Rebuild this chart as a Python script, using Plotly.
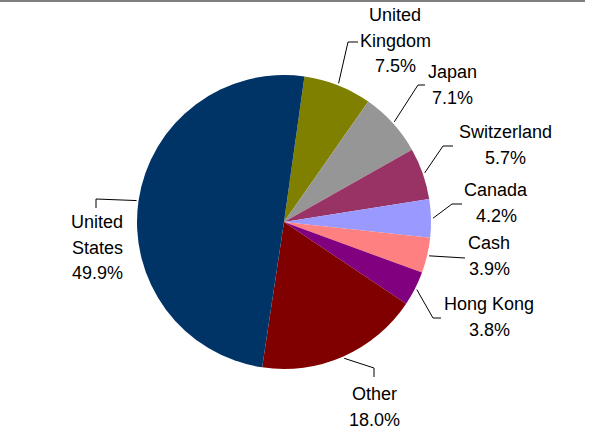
import math
import plotly.graph_objects as go

# ---- data ----
regions = ["United Kingdom", "Japan", "Switzerland", "Canada", "Cash",
           "Hong Kong", "Other", "United States"]
label_lines = [["United", "Kingdom"], ["Japan"], ["Switzerland"], ["Canada"],
               ["Cash"], ["Hong Kong"], ["Other"], ["United", "States"]]
shares = [7.5, 7.1, 5.7, 4.2, 3.9, 3.8, 18.0, 49.9]

# ---- styles / layout ----
colors = ["#808000", "#969696", "#993366", "#9999FF", "#FF8080",
          "#800080", "#800000", "#003366"]
W, H = 589, 434
CX, CY, R = 284.0, 222.0, 147.0
ROT = 8.0
FONT = "Liberation Sans, Arial, sans-serif"
FS = 18
LINE_GAP = 25.5

# label block: (center x, first line y), leader elbow, leader end (pixels)
label_pos = [(395, 15), (452, 72), (505, 132), (496, 190), (489, 243),
             (489, 304), (374, 394), (97, 222)]
elbows = [(348, 42), (418, 85), (443, 146), (452, 204), (465, 258),
          (433, 318), (374, 368), (96, 199)]
ends = [(358, 42), (425, 85), (453, 146), (462, 204), (465, 258),
        (441, 318), (374, 377), (96, 208)]


def px(x):
    return x / W


def py(y):
    return 1 - y / H


fig = go.Figure(go.Pie(
    labels=regions, values=shares, sort=False, direction="clockwise",
    rotation=ROT, marker=dict(colors=colors, line=dict(width=0)),
    textinfo="none", showlegend=False,
    domain=dict(x=[px(CX - R), px(CX + R)], y=[py(CY + R), py(CY - R)]),
))

annotations = []
shapes = []
total = sum(shares)
cum = 0.0
for i, v in enumerate(shares):
    mid = ROT + (cum + v / 2) / total * 360.0
    cum += v
    a = math.radians(mid)
    ex = CX + (R + 2) * math.sin(a)
    ey = CY - (R + 2) * math.cos(a)
    (bx, by), (tx, ty) = elbows[i], ends[i]
    shapes.append(dict(type="path", xref="paper", yref="paper",
                       path=f"M {px(ex)} {py(ey)} L {px(bx)} {py(by)} L {px(tx)} {py(ty)}",
                       line=dict(color="#000000", width=1)))
    lx, ly = label_pos[i]
    lines = label_lines[i] + [f"{v:.1f}%"]
    for k, t in enumerate(lines):
        annotations.append(dict(x=px(lx), y=py(ly + k * LINE_GAP), xref="paper", yref="paper",
                                text=t, showarrow=False, xanchor="center", yanchor="middle",
                                font=dict(family=FONT, size=FS, color="#000000")))

shapes.append(dict(type="line", xref="paper", yref="paper", x0=0, x1=px(585),
                   y0=py(1), y1=py(1), line=dict(color="#7f7f7f", width=2)))

fig.update_layout(width=W, height=H, margin=dict(l=0, r=0, t=0, b=0),
                  paper_bgcolor="white", plot_bgcolor="white",
                  annotations=annotations, shapes=shapes)
fig.write_html("out.html")
